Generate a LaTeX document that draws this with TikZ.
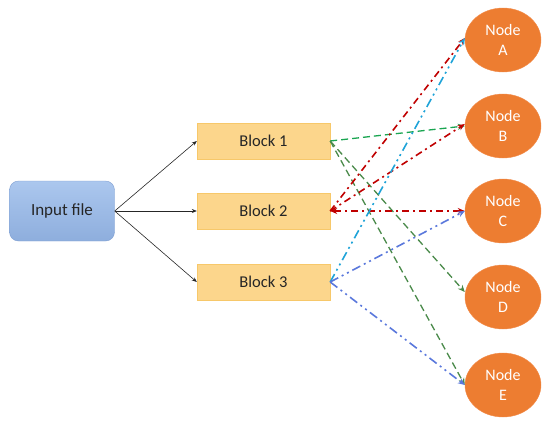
\documentclass[tikz,border=0pt]{standalone}
\usepackage{fontspec}
\setmainfont{Carlito}
\usetikzlibrary{shapes.geometric,arrows.meta}
\definecolor{blockfill}{HTML}{FCD68C}
\definecolor{blockdraw}{HTML}{F7C86A}
\definecolor{nodefill}{HTML}{ED7D31}
\definecolor{nodedraw}{HTML}{F28C4C}
\definecolor{infTop}{HTML}{ABC7EE}
\definecolor{infBot}{HTML}{8EAEDD}
\definecolor{infDraw}{HTML}{7F9FD2}
\definecolor{lgreen}{HTML}{1AA551}
\definecolor{dgreen}{HTML}{4A8A4A}
\definecolor{lred}{HTML}{C00000}
\definecolor{lcyan}{HTML}{1FA3D8}
\definecolor{lblue}{HTML}{5A78DC}
\tikzset{
  blockbox/.style={draw=blockdraw, fill=blockfill, minimum width=133pt, minimum height=36pt, inner sep=0pt, font=\fontsize{16.5}{18}\selectfont, text=black!85},
  ellnode/.style={ellipse, draw=nodedraw, fill=nodefill, minimum width=76pt, minimum height=64pt, inner sep=0pt, align=center, text=white, font=\fontsize{16}{20}\selectfont},
  blackarr/.style={-{Stealth[length=5pt,width=4pt]}, draw=black!85, line width=0.6pt},
  garr/.style={-{Stealth[length=7pt,width=6pt]}, line width=1.3pt, dash pattern=on 7pt off 4pt},
  rarr/.style={-{Stealth[length=7pt,width=6pt]}, draw=lred, line width=1.6pt, dash pattern=on 7pt off 4pt on 2pt off 4pt},
  barr/.style={-{Stealth[length=7pt,width=6pt]}, line width=1.6pt, dash pattern=on 9pt off 4pt on 2pt off 4pt on 2pt off 4pt}
}
\begin{document}
\begin{tikzpicture}[x=1pt,y=-1pt]
\useasboundingbox (0,0) rectangle (550,426);
\node[draw=infDraw, rounded corners=9pt, top color=infTop, bottom color=infBot, minimum width=105pt, minimum height=60pt, inner sep=0pt, font=\fontsize{17}{19}\selectfont, text=black!85] (inp) at (62,211) {Input file};
\node[blockbox] (b1) at (263.5,141) {Block 1};
\node[blockbox] (b2) at (263.5,211) {Block 2};
\node[blockbox] (b3) at (263.5,282) {Block 3};
\node[ellnode] (na) at (503,40) {Node\\A};
\node[ellnode] (nb) at (503,126) {Node\\B};
\node[ellnode] (nc) at (503,211) {Node\\C};
\node[ellnode] (nd) at (503,297) {Node\\D};
\node[ellnode] (ne) at (503,385) {Node\\E};
\draw[blackarr] (inp.east) -- (b1.west);
\draw[blackarr] (inp.east) -- (b2.west);
\draw[blackarr] (inp.east) -- (b3.west);
\draw[garr, draw=lgreen] (b1.east) -- (nb.west);
\draw[garr, draw=dgreen] (b1.east) -- ([yshift=5pt]nd.west);
\draw[garr, draw=dgreen] (b1.east) -- (ne.west);
\draw[rarr] (b2.east) -- ([yshift=2pt]na.west);
\draw[rarr] (b2.east) -- ([yshift=2pt]nb.west);
\draw[rarr, {Stealth[length=7pt,width=6pt]}-{Stealth[length=7pt,width=6pt]}] (b2.east) -- (nc.west);
\draw[barr, draw=lcyan] (b3.east) -- ([yshift=2pt]na.west);
\draw[barr, draw=lblue] (b3.east) -- (nc.west);
\draw[barr, draw=lblue] (b3.east) -- (ne.west);
\end{tikzpicture}
\end{document}
